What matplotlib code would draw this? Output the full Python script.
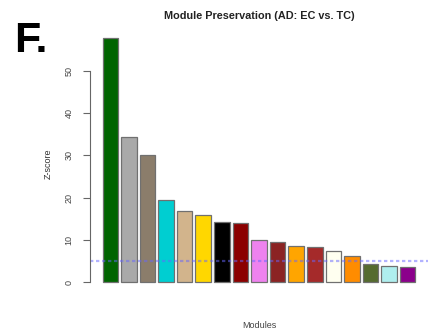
import matplotlib

matplotlib.use("Agg")

import matplotlib.pyplot as plt

plt.rcParams["font.family"] = ["Liberation Sans", "DejaVu Sans"]

# module colours (WGCNA names) and preservation Z-summary values
modules = ["darkgreen", "darkgrey", "bisque4", "darkturquoise", "tan", "gold",
           "black", "darkred", "violet", "brown4", "orange", "brown", "ivory",
           "darkorange", "darkolivegreen", "paleturquoise", "darkmagenta"]
bar_colors = ["#006400", "#A9A9A9", "#8B7D6B", "#00CED1", "#D2B48C", "#FFD700",
              "#000000", "#8B0000", "#EE82EE", "#8B2323", "#FFA500", "#A52A2A",
              "#FFFFF0", "#FF8C00", "#556B2F", "#AFEEEE", "#8B008B"]
zscores = [57.8, 34.4, 30.1, 19.4, 16.9, 15.9, 14.2, 13.9, 9.9, 9.5, 8.5, 8.4,
           7.4, 6.3, 4.2, 3.9, 3.5]
threshold = 5
yticks = [0, 10, 20, 30, 40, 50]

W, H = 428, 335
fig = plt.figure(figsize=(W / 100, H / 100), dpi=100)
fig.patch.set_facecolor("white")

# plot region in pixels: x 90..428, y 28..292
ax = fig.add_axes([90 / W, 1 - 292 / H, 338 / W, 264 / H])

# R barplot layout: width 1, space 0.2
n = len(zscores)
centers = [0.7 + 1.2 * i for i in range(n)]
ax.bar(centers, zscores, width=1.0, color=bar_colors, edgecolor="#707070", linewidth=0.9)
ax.axhline(threshold, color="#6666ff", alpha=0.5, linestyle=(0, (1.5, 1.2)), linewidth=1.6)

span = centers[-1] + 0.5 - 0.2
ax.set_xlim(0.2 - 0.04 * span, centers[-1] + 0.5 + 0.04 * span)
top = max(zscores)
ax.set_ylim(-0.04 * top, top * 1.04)

for side in ["top", "right", "bottom"]:
    ax.spines[side].set_visible(False)
ax.spines["left"].set_bounds(0, 50)
ax.spines["left"].set_color("#666666")
ax.spines["left"].set_linewidth(0.8)
ax.set_xticks([])
ax.set_yticks(yticks)
ax.set_yticklabels([str(t) for t in yticks], rotation=90, va="center", fontsize=6.5, color="#444444")
ax.tick_params(axis="y", length=5, width=0.8, color="#666666", pad=7)

fig.text(48 / W, 0.51, "Z-score", rotation=90, ha="center", va="center", fontsize=6.5, color="#333333")
fig.text(259 / W, 1 - 325 / H, "Modules", ha="center", va="center", fontsize=6.5, color="#444444")
fig.text(259 / W, 1 - 16 / H, "Module Preservation (AD: EC vs. TC)", ha="center", va="center",
         fontsize=7.8, fontweight="bold", color="#222222")
fig.text(14 / W, 1 - 52 / H, "F.", ha="left", va="baseline", fontsize=31, fontweight="bold", color="black")

fig.savefig("out.png", dpi=100)
